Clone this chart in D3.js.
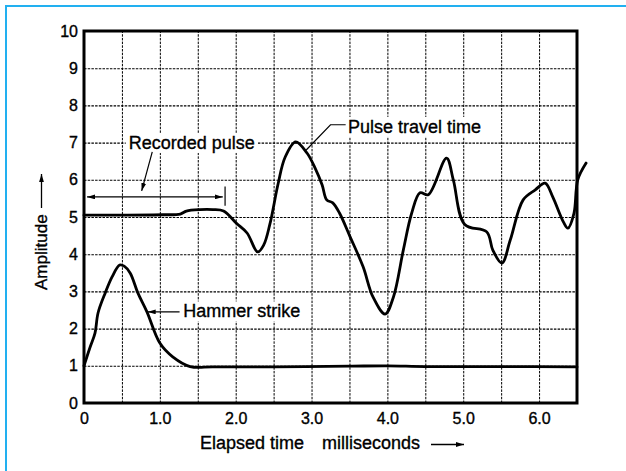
<!DOCTYPE html>
<html>
<head>
<meta charset="utf-8">
<script src="https://cdn.jsdelivr.net/npm/d3@7"></script>
<style>
  body { margin: 0; background: #fff; }
  text { font-family: "Liberation Sans", Arial, Helvetica, sans-serif; fill: #000; stroke: #000; stroke-width: 0.35px; }
</style>
</head>
<body>
<div id="chart"></div>
<script>
// Dữ liệu (thời gian ms, biên độ)
const hammerTime = [0, 0.08, 0.145, 0.185, 0.28, 0.37, 0.47, 0.53, 0.61, 0.71, 0.83, 1.0, 1.17, 1.4, 1.7, 2.5, 3.5, 4.0, 4.5, 5.5, 6.5];
const hammerAmp  = [1.0, 1.5, 1.88, 2.42, 2.96, 3.39, 3.71, 3.68, 3.49, 2.96, 2.45, 1.61, 1.24, 0.98, 0.97, 0.97, 0.99, 1.0, 0.98, 0.98, 0.97];

const pulseTime = [0, 0.5, 1.04, 1.27, 1.35, 1.53, 1.7, 1.84, 2.01, 2.15, 2.29, 2.37, 2.45, 2.56, 2.65, 2.79, 2.94, 3.05, 3.14, 3.2, 3.28, 3.37, 3.51, 3.68, 3.81, 3.97, 4.08, 4.21, 4.32, 4.43, 4.54, 4.78, 4.87, 5.02, 5.31, 5.39, 5.51, 5.62, 5.79, 5.95, 6.08, 6.18, 6.32, 6.38, 6.46, 6.51, 6.62];
const pulseAmp  = [5.05, 5.05, 5.06, 5.08, 5.16, 5.2, 5.2, 5.16, 4.83, 4.57, 4.06, 4.25, 4.8, 5.9, 6.6, 7.02, 6.72, 6.3, 5.86, 5.46, 5.38, 5.1, 4.46, 3.66, 2.85, 2.39, 2.85, 4.11, 5.1, 5.65, 5.6, 6.58, 5.99, 4.8, 4.6, 4.11, 3.76, 4.38, 5.46, 5.73, 5.91, 5.54, 4.87, 4.7, 5.1, 6.0, 6.45];

const xTicks = [0, 1, 2, 3, 4, 5, 6];
const xTickLabels = ["0", "1.0", "2.0", "3.0", "4.0", "5.0", "6.0"];
const yTicks = [0, 1, 2, 3, 4, 5, 6, 7, 8, 9, 10];
const xGrid = [0.5, 1, 1.5, 2, 2.5, 3, 3.5, 4, 4.5, 5, 5.5, 6];
const yGrid = [1, 2, 3, 4, 5, 6, 7, 8, 9];

const W = 626, H = 471;
const margin = { top: 31, right: 49, bottom: 68, left: 84 };
const width = W - margin.left - margin.right;
const height = H - margin.top - margin.bottom;

const svg = d3.select("#chart").append("svg")
    .attr("width", W).attr("height", H);

svg.append("rect").attr("width", W).attr("height", H).attr("fill", "#fff");
// Khung màu xanh
svg.append("rect")
    .attr("x", 6).attr("y", 6).attr("width", 700).attr("height", 600)
    .attr("fill", "none").attr("stroke", "#22b0f0").attr("stroke-width", 2);

// Mũi tên
const defs = svg.append("defs");
defs.append("marker")
    .attr("id", "arr")
    .attr("viewBox", "0 0 10 6")
    .attr("refX", 10).attr("refY", 3)
    .attr("markerUnits", "userSpaceOnUse")
    .attr("markerWidth", 8).attr("markerHeight", 5)
    .attr("orient", "auto-start-reverse")
    .append("path").attr("d", "M0,0 L10,3 L0,6 z").attr("fill", "#000");

const g = svg.append("g").attr("transform", `translate(${margin.left},${margin.top})`);

const x = d3.scaleLinear().domain([0, 6.5]).range([0, width]);
const y = d3.scaleLinear().domain([0, 10]).range([height, 0]);

// Lưới
g.append("g")
    .attr("transform", `translate(0,${height})`)
    .call(d3.axisBottom(x).tickValues(xGrid).tickSize(-height).tickFormat(""))
    .call(a => a.select(".domain").remove())
    .selectAll("line")
    .attr("stroke", "#000").attr("stroke-width", 1).attr("stroke-dasharray", "2.5,1.2");

g.append("g")
    .call(d3.axisLeft(y).tickValues(yGrid).tickSize(-width).tickFormat(""))
    .call(a => a.select(".domain").remove())
    .selectAll("line")
    .attr("stroke", "#000").attr("stroke-width", 1.1).attr("stroke-dasharray", "2.5,1.2");

// Nhãn trục
g.append("g")
    .call(d3.axisLeft(y).tickValues(yTicks).tickSize(0).tickPadding(6).tickFormat(d => d))
    .call(a => a.select(".domain").remove())
    .selectAll("text")
    .style("font-size", "16px").style("font-family", "Liberation Sans, Arial, sans-serif");

g.append("g")
    .attr("transform", `translate(0,${height})`)
    .call(d3.axisBottom(x).tickValues(xTicks).tickSize(0).tickPadding(10).tickFormat((d, i) => xTickLabels[i]))
    .call(a => a.select(".domain").remove())
    .selectAll("text")
    .style("font-size", "16px").style("font-family", "Liberation Sans, Arial, sans-serif");

// Nhãn chú thích với nền trắng
function label(txt, px, py, size) {
    let t = g.append("text").attr("x", px).attr("y", py)
        .style("font-size", size + "px").text(txt);
    let b = t.node().getBBox();
    g.insert("rect", function() { return t.node(); })
        .attr("x", b.x - 3).attr("y", b.y).attr("width", b.width + 6).attr("height", b.height)
        .attr("fill", "#fff");
    return t;
}

label("Recorded pulse", x(0.59), y(6.83), 18);
label("Pulse travel time", x(3.48), y(7.26), 18);
label("Hammer strike", x(1.31), y(2.3), 18);

// Khung đồ thị
g.append("rect")
    .attr("width", width).attr("height", height)
    .attr("fill", "none").attr("stroke", "#000").attr("stroke-width", 3);

// Đường cong
const line = d3.line()
    .x(d => x(d[0])).y(d => y(d[1]))
    .curve(d3.curveCatmullRom.alpha(0.5));

g.append("path")
    .datum(hammerTime.map((t, i) => [t, hammerAmp[i]]))
    .attr("d", line)
    .attr("fill", "none").attr("stroke", "#000").attr("stroke-width", 2.8)
    .attr("stroke-linejoin", "round").attr("stroke-linecap", "round");

g.append("path")
    .datum(pulseTime.map((t, i) => [t, pulseAmp[i]]))
    .attr("d", line)
    .attr("fill", "none").attr("stroke", "#000").attr("stroke-width", 2.8)
    .attr("stroke-linejoin", "round").attr("stroke-linecap", "round");

// Đường chỉ dẫn
const lead = { stroke: "#000", "stroke-width": 1.2, fill: "none" };
function leader(pts, mStart, mEnd) {
    let p = g.append("path").attr("d", d3.line()(pts));
    Object.entries(lead).forEach(([k, v]) => p.attr(k, v));
    if (mStart) p.attr("marker-start", "url(#arr)");
    if (mEnd) p.attr("marker-end", "url(#arr)");
}
// Recorded pulse: mũi tên chéo + mũi tên hai đầu + vạch đứng
leader([[x(0.90), y(6.75)], [x(0.76), y(5.7)]], false, true);
leader([[x(0.04), y(5.54)], [x(1.83), y(5.54)]], true, true);
leader([[x(1.86), y(5.82)], [x(1.86), y(5.3)]], false, false);
// Pulse travel time
leader([[x(3.45), y(7.48)], [x(3.25), y(7.48)], [x(2.93), y(6.8)]], false, false);
// Hammer strike
leader([[x(1.26), y(2.45)], [x(0.84), y(2.45)]], false, true);

// Tiêu đề trục
svg.append("text").attr("x", 200).attr("y", 449)
    .style("font-size", "18px").text("Elapsed time");
svg.append("text").attr("x", 322).attr("y", 449)
    .style("font-size", "18px").text("milliseconds");
svg.append("path").attr("d", "M431,444.5 L464,444.5")
    .attr("stroke", "#000").attr("stroke-width", 1.3).attr("marker-end", "url(#arr)");

svg.append("text")
    .attr("transform", "translate(47,290) rotate(-90)")
    .style("font-size", "17px").text("Amplitude");
svg.append("path").attr("d", "M41.5,208 L41.5,174")
    .attr("stroke", "#000").attr("stroke-width", 1.3).attr("marker-end", "url(#arr)");
</script>
</body>
</html>
